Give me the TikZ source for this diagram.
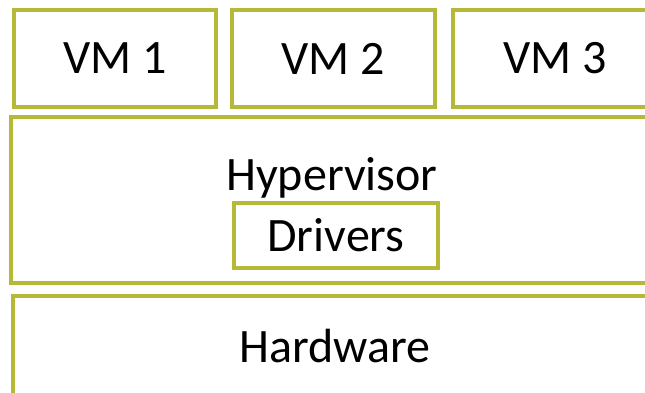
\documentclass[tikz,border=0pt]{standalone}
\usepackage{fontspec}
\setmainfont{Carlito}
\definecolor{olive}{RGB}{181,185,55}
\begin{document}
\begin{tikzpicture}[x=1pt,y=-1pt,
  layer/.style={draw=olive,line width=3.6pt,fill=white,inner sep=0pt},
  big/.style={font=\fontsize{48}{48}\selectfont}]
\useasboundingbox (0,0) rectangle (645,392);
\clip (0,0) rectangle (645,392);
\node[layer,big,minimum width=202pt,minimum height=97pt] (vm1) at (115,58.5) {VM 1};
\node[layer,big,minimum width=203pt,minimum height=97pt] (vm2) at (333.5,58.5) {VM 2};
\node[layer,big,minimum width=204pt,minimum height=97pt] (vm3) at (555,58.5) {VM 3};
\node[layer,minimum width=644pt,minimum height=166pt] (hyp) at (333,200) {};
\node[big,anchor=base] (hyptext) at (332,190) {Hypervisor};
\node[layer,big,minimum width=204pt,minimum height=65pt] (drv) at (336,235.5) {Drivers};
\node[layer,minimum width=644pt,minimum height=160pt] (hw) at (335,376) {};
\node[big] (hwtext) at (335,346) {Hardware};
\end{tikzpicture}
\end{document}
